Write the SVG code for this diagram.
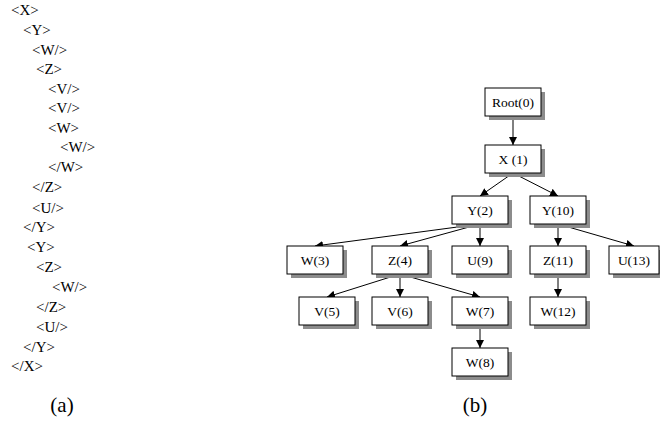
<svg xmlns="http://www.w3.org/2000/svg" width="660" height="421" viewBox="0 0 660 421">
<style>
.t{font-family:'Liberation Serif','DejaVu Serif',serif;font-size:15px;fill:#000}
.n rect.s{fill:#8c8c8c;stroke:none}
.n rect.b{fill:#fff;stroke:#000;stroke-width:1}
.n text{font-family:'Liberation Serif','DejaVu Serif',serif;font-size:13.5px;fill:#000;text-anchor:middle}
.e line{stroke:#000;stroke-width:1;marker-end:url(#ah)}
.cap{font-family:'Liberation Serif','DejaVu Serif',serif;font-size:21px;text-anchor:middle}
</style>
<defs>
<marker id="ah" viewBox="0 0 10 10" refX="10" refY="5" markerWidth="8" markerHeight="8" markerUnits="userSpaceOnUse" orient="auto">
<path d="M0,0 L10,5 L0,10 z" fill="#000"/>
</marker>
</defs>
<rect width="660" height="421" fill="#fff"/>
<g id="xml-text" class="t">
<text x="11" y="15">&lt;X&gt;</text>
<text x="23" y="35">&lt;Y&gt;</text>
<text x="32" y="55">&lt;W/&gt;</text>
<text x="36" y="74">&lt;Z&gt;</text>
<text x="48" y="94">&lt;V/&gt;</text>
<text x="48" y="113">&lt;V/&gt;</text>
<text x="48" y="133">&lt;W&gt;</text>
<text x="60" y="152">&lt;W/&gt;</text>
<text x="48" y="172">&lt;/W&gt;</text>
<text x="32" y="192">&lt;/Z&gt;</text>
<text x="32" y="213">&lt;U/&gt;</text>
<text x="23" y="232">&lt;/Y&gt;</text>
<text x="27" y="252">&lt;Y&gt;</text>
<text x="36" y="272">&lt;Z&gt;</text>
<text x="52" y="292">&lt;W/&gt;</text>
<text x="36" y="312">&lt;/Z&gt;</text>
<text x="36" y="332">&lt;U/&gt;</text>
<text x="23" y="352">&lt;/Y&gt;</text>
<text x="11" y="371">&lt;/X&gt;</text>
</g>
<g id="connectors" class="e">
<line x1="513" y1="116" x2="513" y2="145"/>
<line x1="513" y1="173" x2="480" y2="196"/>
<line x1="513" y1="173" x2="558" y2="196"/>
<line x1="480" y1="224" x2="315" y2="246"/>
<line x1="480" y1="224" x2="400" y2="246"/>
<line x1="480" y1="224" x2="480" y2="246"/>
<line x1="558" y1="224" x2="558" y2="246"/>
<line x1="558" y1="224" x2="634" y2="246"/>
<line x1="400" y1="274" x2="327" y2="297"/>
<line x1="400" y1="274" x2="400" y2="297"/>
<line x1="400" y1="274" x2="480" y2="297"/>
<line x1="558" y1="274" x2="558" y2="297"/>
<line x1="480" y1="325" x2="480" y2="348"/>
</g>
<g id="n0" class="n"><rect class="s" x="489" y="92" width="56" height="28"/><rect class="b" x="485" y="88" width="56" height="28"/><text x="513" y="106.5">Root(0)</text></g>
<g id="n1" class="n"><rect class="s" x="489" y="149" width="56" height="28"/><rect class="b" x="485" y="145" width="56" height="28"/><text x="513" y="163.5">X (1)</text></g>
<g id="n2" class="n"><rect class="s" x="456" y="200" width="56" height="28"/><rect class="b" x="452" y="196" width="56" height="28"/><text x="480" y="214.5">Y(2)</text></g>
<g id="n10" class="n"><rect class="s" x="534" y="200" width="56" height="28"/><rect class="b" x="530" y="196" width="56" height="28"/><text x="558" y="214.5">Y(10)</text></g>
<g id="n3" class="n"><rect class="s" x="291" y="250" width="56" height="28"/><rect class="b" x="287" y="246" width="56" height="28"/><text x="315" y="264.5">W(3)</text></g>
<g id="n4" class="n"><rect class="s" x="376" y="250" width="56" height="28"/><rect class="b" x="372" y="246" width="56" height="28"/><text x="400" y="264.5">Z(4)</text></g>
<g id="n9" class="n"><rect class="s" x="456" y="250" width="56" height="28"/><rect class="b" x="452" y="246" width="56" height="28"/><text x="480" y="264.5">U(9)</text></g>
<g id="n11" class="n"><rect class="s" x="534" y="250" width="56" height="28"/><rect class="b" x="530" y="246" width="56" height="28"/><text x="558" y="264.5">Z(11)</text></g>
<g id="n13" class="n"><rect class="s" x="613" y="250" width="50" height="28"/><rect class="b" x="609" y="246" width="50" height="28"/><text x="634" y="264.5">U(13)</text></g>
<g id="n5" class="n"><rect class="s" x="303" y="301" width="56" height="28"/><rect class="b" x="299" y="297" width="56" height="28"/><text x="327" y="315.5">V(5)</text></g>
<g id="n6" class="n"><rect class="s" x="376" y="301" width="56" height="28"/><rect class="b" x="372" y="297" width="56" height="28"/><text x="400" y="315.5">V(6)</text></g>
<g id="n7" class="n"><rect class="s" x="456" y="301" width="56" height="28"/><rect class="b" x="452" y="297" width="56" height="28"/><text x="480" y="315.5">W(7)</text></g>
<g id="n12" class="n"><rect class="s" x="534" y="301" width="56" height="28"/><rect class="b" x="530" y="297" width="56" height="28"/><text x="558" y="315.5">W(12)</text></g>
<g id="n8" class="n"><rect class="s" x="456" y="352" width="56" height="28"/><rect class="b" x="452" y="348" width="56" height="28"/><text x="480" y="366.5">W(8)</text></g>
<text class="cap" x="62" y="412">(a)</text>
<text class="cap" x="475" y="412">(b)</text>
</svg>
